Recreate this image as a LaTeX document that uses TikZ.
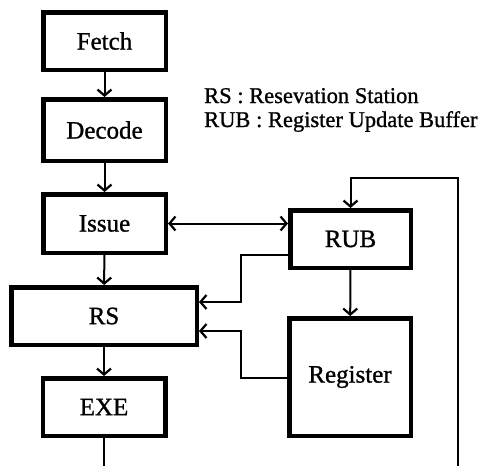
\documentclass[tikz,border=0pt]{standalone}
\usepackage{fontspec}
\setmainfont[FakeBold=1]{Liberation Serif}
\usetikzlibrary{arrows.meta}
\begin{document}
\begin{tikzpicture}[x=1pt,y=-1pt,
  blk/.style={draw=black,line width=4.5pt,fill=white,inner sep=0pt,font=\fontsize{25}{28}\selectfont},
  conn/.style={line width=2pt},
  arr/.style={conn,-{Straight Barb[length=6pt,width=14pt,line width=2.2pt]}},
  darr/.style={conn,{Straight Barb[length=6pt,width=14pt,line width=2.2pt]}-{Straight Barb[length=6pt,width=14pt,line width=2.2pt]}},
  legend/.style={anchor=base west,inner sep=0pt,font=\fontsize{22.5}{24}\selectfont}]
\useasboundingbox[fill=white] (0,0) rectangle (491,466);
% boxes
\node[blk,minimum width=122.5pt,minimum height=57.5pt] (fetch) at (104.5,41) {Fetch};
\node[blk,minimum width=122.5pt,minimum height=61.5pt] (decode) at (104.5,130) {Decode};
\node[blk,minimum width=122.5pt,minimum height=58.5pt] (issue) at (104.5,223.5) {Issue};
\node[blk,minimum width=185.5pt,minimum height=57.5pt] (rs) at (104,316) {RS};
\node[blk,minimum width=122.5pt,minimum height=57.5pt] (exe) at (104,407) {EXE};
\node[blk,minimum width=120.5pt,minimum height=57.5pt] (rub) at (350.5,239) {RUB};
\node[blk,minimum width=121.5pt,minimum height=117.5pt] (reg) at (350,377) {Register};
% legend
\node[legend] (l1) at (204,103) {RS : Resevation Station};
\node[legend] (l2) at (204,127) {RUB : Register Update Buffer};
% pipeline arrows
\draw[arr] (fetch) -- (decode);
\draw[arr] (decode) -- (issue);
\draw[arr] (issue) -- (rs);
\draw[arr] (rs) -- (exe);
\coordinate (exeout) at (104,466);
\draw[conn] (exe) -- (exeout);
% issue <-> rub
\draw[darr] (issue.east) -- (issue.east -| rub.west);
% rub -> register
\draw[arr] (rub) -- (reg);
% rub -> rs
\path (rub.west) ++(0,16) coordinate (r1);
\path (rs.east) ++(0,-14) coordinate (rsin1);
\draw[arr] (r1) -- ++(-47,0) |- (rsin1);
% register -> rs
\path (reg.west) ++(0,1) coordinate (g1);
\path (rs.east) ++(0,15) coordinate (rsin2);
\draw[arr] (g1) -- ++(-46,0) |- (rsin2);
% feedback into rub
\coordinate (fb) at (458,466);
\draw[arr] (fb) -- ++(0,-288) -| (rub.north);
\end{tikzpicture}
\end{document}
